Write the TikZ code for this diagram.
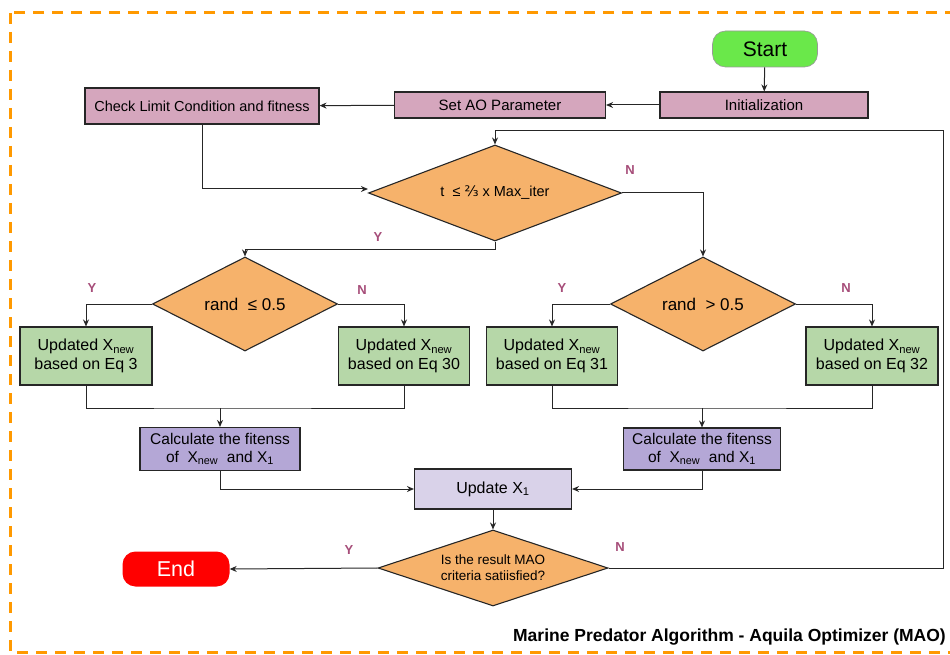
\documentclass[tikz,border=0pt]{standalone}
\usepackage{fontspec}
\setmainfont{Liberation Sans}
\newfontfamily\dv{DejaVu Sans}
\usetikzlibrary{shapes.geometric,arrows.meta}
\definecolor{pinkbox}{HTML}{D5A6BD}
\definecolor{greenbox}{HTML}{B6D7A8}
\definecolor{orangedia}{HTML}{F6B26B}
\definecolor{purplebox}{HTML}{B4A7D6}
\definecolor{lavbox}{HTML}{D9D2E9}
\definecolor{startgreen}{HTML}{6AE84A}
\definecolor{lblcol}{HTML}{A64D79}
\definecolor{borderorange}{HTML}{FF9900}
\tikzset{
  box/.style={draw=black!85, line width=1.1pt, inner sep=0pt, align=center},
  pinkb/.style={box, fill=pinkbox, font=\fontsize{15}{17}\selectfont},
  greenb/.style={box, fill=greenbox, minimum height=58pt, font=\fontsize{16}{19}\selectfont},
  calcb/.style={box, fill=purplebox, font=\fontsize{15.5}{17.5}\selectfont},
  dia/.style={diamond, draw=black!85, line width=1.1pt, fill=orangedia, inner sep=0pt, aspect=2.6, align=center},
  term/.style={draw=none, rounded corners=13pt, inner sep=0pt, font=\fontsize{21}{23}\selectfont},
  arr/.style={draw=black!85, line width=1pt, -{Stealth[length=7pt,width=6pt]}},
  ln/.style={draw=black!85, line width=1pt},
  lbl/.style={text=lblcol, font=\bfseries\fontsize{13}{15}\selectfont, inner sep=0pt}
}
\begin{document}
\begin{tikzpicture}[x=1pt,y=-1pt]
\useasboundingbox (0,0) rectangle (950,655);
\begin{scope}
\clip (0,0) rectangle (950,655);
\draw[borderorange, line width=3pt, dash pattern=on 11pt off 8pt] (10,13) rectangle (965,652);
\end{scope}
% nodes
\node[term, fill=startgreen, draw=black!40, line width=0.6pt, minimum width=105pt, minimum height=36pt] (start) at (765,49) {Start};
\node[pinkb, minimum width=208pt, minimum height=26pt] (init) at (764,105) {Initialization};
\node[pinkb, minimum width=211pt, minimum height=26pt] (setao) at (500,105) {Set AO Parameter};
\node[pinkb, minimum width=234pt, minimum height=36pt, font=\fontsize{14.5}{16}\selectfont] (check) at (202,106) {Check Limit Condition and fitness};
\node[dia, minimum width=253pt, minimum height=96pt, font=\fontsize{14.5}{17}\selectfont] (d1) at (495,193) {t\ \ ≤ {\dv ⅔} x Max\_iter};
\node[dia, minimum width=185pt, minimum height=94pt, font=\fontsize{17}{20}\selectfont] (d2) at (245,304) {rand\ \ ≤ 0.5};
\node[dia, minimum width=185pt, minimum height=94pt, font=\fontsize{17}{20}\selectfont] (d3) at (703,304) {rand\ \ \textgreater{} 0.5};
\node[greenb, minimum width=132pt] (b1) at (86,356) {Updated X\textsubscript{new}\\based on Eq 3};
\node[greenb, minimum width=131pt] (b2) at (404,356) {Updated X\textsubscript{new}\\based on Eq 30};
\node[greenb, minimum width=131pt] (b3) at (552,356) {Updated X\textsubscript{new}\\based on Eq 31};
\node[greenb, minimum width=132pt] (b4) at (872,356) {Updated X\textsubscript{new}\\based on Eq 32};
\node[calcb, minimum width=160pt, minimum height=43pt] (c1) at (220,449) {Calculate the fitenss\\of\ \ X\textsubscript{new}\ \ and X\textsubscript{1}};
\node[calcb, minimum width=157pt, minimum height=42pt] (c2) at (702,449) {Calculate the fitenss\\of\ \ X\textsubscript{new}\ \ and X\textsubscript{1}};
\node[box, fill=lavbox, minimum width=157pt, minimum height=40pt, font=\fontsize{16}{19}\selectfont] (upd) at (493,489) {Update X\textsubscript{1}};
\node[dia, aspect=3, minimum width=230pt, minimum height=76pt, font=\fontsize{13.5}{16}\selectfont] (d4) at (493,568) {Is the result MAO\\criteria satiisfied?};
\node[term, fill=red, text=white, minimum width=107pt, minimum height=35pt, font=\fontsize{21.5}{23}\selectfont] (end) at (176,569) {End};
% coordinates
\coordinate (m1) at (220,408);
\coordinate (m2) at (702,408);
\coordinate (lr) at (943,131);
% connectors
\draw[arr] (start) -- (init);
\draw[arr] (init) -- (setao);
\draw[arr] (setao) -- (check);
\draw[arr] (check.south) |- ([yshift=4pt]d1.west);
\draw[arr] (d1.south) -- ++(0,8) -| (d2.north);
\draw[arr] (d1.east) -| (d3.north);
\draw[arr] (d2.west) -| (b1.north);
\draw[arr] (d2.east) -| (b2.north);
\draw[arr] (d3.west) -| (b3.north);
\draw[arr] (d3.east) -| (b4.north);
\draw[ln] (b1.south) |- (m1) -| (b2.south);
\draw[ln] (b3.south) |- (m2) -| (b4.south);
\draw[arr] (m1) -- (c1.north);
\draw[arr] (m2) -- (c2.north);
\draw[arr] (c1.south) |- (upd.west);
\draw[arr] (c2.south) |- (upd.east);
\draw[arr] (upd.south) -- (d4.north);
\draw[arr] (d4.west) -- (end.east);
\draw[arr] (d4.east) -| (lr) -| (d1.north);
% labels
\node[lbl] (l1) at (630,170) {N};
\node[lbl] (l2) at (378,237) {Y};
\node[lbl] (l3) at (92,288) {Y};
\node[lbl] (l4) at (362,290) {N};
\node[lbl] (l5) at (562,288) {Y};
\node[lbl] (l6) at (846,288) {N};
\node[lbl] (l7) at (349,550) {Y};
\node[lbl] (l8) at (620,547) {N};
\node[anchor=east, font=\bfseries\fontsize{17.5}{20}\selectfont, inner sep=0pt] (title) at (946,637) {Marine Predator Algorithm - Aquila Optimizer (MAO)};
\end{tikzpicture}
\end{document}
